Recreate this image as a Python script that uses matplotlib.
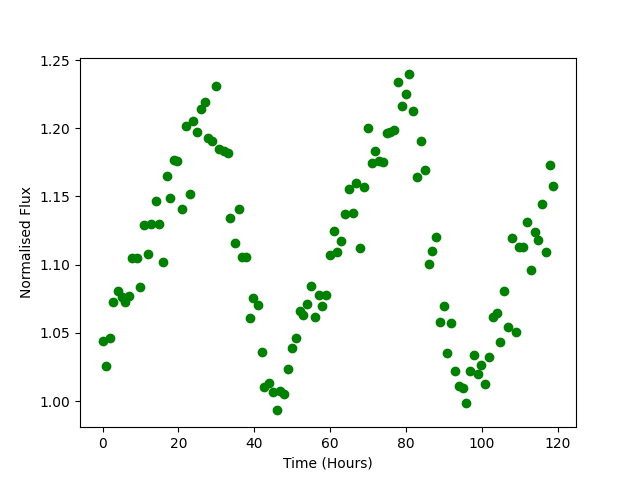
import matplotlib
matplotlib.use("Agg")
import matplotlib.pyplot as plt

# Light curve samples
time_hours = [
    0.0, 0.8, 1.85, 2.85, 3.96, 5.0, 5.8, 6.97, 7.75, 9.0,
    9.8, 10.8, 11.9, 12.9, 14.0, 14.9, 15.85, 16.9, 17.9, 18.9,
    19.7, 20.9, 21.9, 23.0, 23.8, 24.8, 25.9, 26.95, 27.9, 28.8,
    29.85, 30.8, 31.9, 33.0, 33.7, 34.9, 35.9, 36.8, 37.9, 38.8,
    39.8, 40.95, 42.0, 42.7, 43.95, 44.9, 46.0, 46.9, 47.9, 48.9,
    49.9, 51.1, 52.0, 52.8, 53.9, 54.9, 56.0, 57.0, 57.9, 59.0,
    60.0, 61.0, 61.9, 62.9, 63.9, 64.9, 66.05, 66.85, 67.9, 69.0,
    69.9, 71.0, 71.8, 72.9, 74.0, 74.9, 75.9, 76.9, 77.9, 79.0,
    79.9, 80.7, 81.9, 82.9, 83.9, 85.0, 86.0, 86.9, 88.0, 88.95,
    90.0, 90.9, 91.9, 93.0, 94.0, 95.0, 95.9, 96.95, 98.0, 99.0,
    99.9, 100.9, 101.9, 103.0, 104.1, 104.9, 105.9, 106.9, 108.1, 109.1,
    109.9, 111.0, 112.0, 113.1, 114.1, 114.9, 116.0, 117.0, 118.1, 118.9,
]
norm_flux = [
    1.044, 1.026, 1.046, 1.073, 1.081, 1.076, 1.073, 1.077, 1.1046, 1.105,
    1.084, 1.129, 1.108, 1.130, 1.147, 1.130, 1.102, 1.165, 1.149, 1.177,
    1.176, 1.141, 1.2016, 1.152, 1.205, 1.197, 1.214, 1.219, 1.1926, 1.191,
    1.231, 1.1845, 1.183, 1.1816, 1.134, 1.116, 1.141, 1.106, 1.1056, 1.0606,
    1.0755, 1.0704, 1.0357, 1.010, 1.0134, 1.007, 0.9932, 1.0073, 1.0049, 1.0235,
    1.0386, 1.046, 1.066, 1.063, 1.071, 1.0843, 1.0614, 1.078, 1.0696, 1.078,
    1.1068, 1.1246, 1.109, 1.1173, 1.1369, 1.1552, 1.1376, 1.1598, 1.112, 1.1567,
    1.2001, 1.1743, 1.183, 1.176, 1.175, 1.1963, 1.1974, 1.1987, 1.2336, 1.2163,
    1.2249, 1.2395, 1.2126, 1.164, 1.1904, 1.1691, 1.1002, 1.1097, 1.120, 1.0577,
    1.0694, 1.035, 1.0572, 1.022, 1.011, 1.0095, 0.9983, 1.022, 1.0335, 1.0196,
    1.0262, 1.0122, 1.032, 1.0614, 1.0643, 1.043, 1.0804, 1.054, 1.1193, 1.051,
    1.1127, 1.1127, 1.131, 1.0958, 1.1237, 1.1178, 1.1442, 1.109, 1.1728, 1.1574,
]

fig, ax = plt.subplots(figsize=(6.4, 4.8), dpi=100)
ax.plot(time_hours, norm_flux, "o", color="green")
ax.set_xlabel("Time (Hours)")
ax.set_ylabel("Normalised Flux")
plt.savefig("out.png", dpi=100)
